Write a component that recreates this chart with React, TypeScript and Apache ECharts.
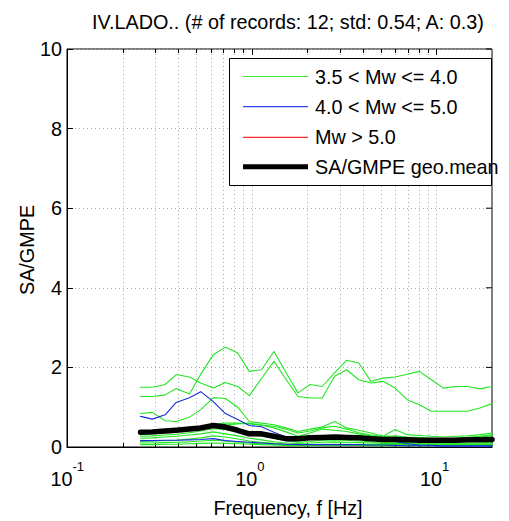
import React, { useEffect, useRef } from "react";
import * as echarts from "echarts";

const FREQS = [0.25, 0.29, 0.34, 0.39, 0.46, 0.53, 0.62, 0.72, 0.84, 0.97, 1.13, 1.32, 1.53, 1.78, 2.07, 2.41, 2.81, 3.27, 3.8, 4.42, 5.14, 5.98, 6.95, 8.08, 9.4, 10.9, 12.7, 14.8, 17.2, 20];

const G1 = [1.50, 1.50, 1.57, 1.82, 1.76, 1.61, 1.48, 1.62, 1.52, 1.29, 1.72, 2.15, 1.71, 1.27, 1.23, 1.23, 1.78, 1.94, 1.69, 1.61, 1.65, 1.48, 1.19, 1.06, 0.90, 0.90, 0.90, 0.90, 0.98, 1.09];
const G2 = [1.27, 1.27, 1.31, 1.47, 1.33, 1.83, 2.32, 2.51, 2.36, 1.90, 1.94, 2.40, 1.88, 1.36, 1.57, 1.52, 1.86, 2.18, 2.11, 1.65, 1.73, 1.76, 1.83, 1.90, 1.69, 1.48, 1.52, 1.52, 1.46, 1.52];
const G3 = [0.84, 0.87, 0.66, 0.64, 0.75, 0.94, 1.24, 1.22, 1.00, 0.64, 0.60, 0.56, 0.48, 0.39, 0.45, 0.50, 0.64, 0.48, 0.42, 0.35, 0.27, 0.44, 0.31, 0.29, 0.27, 0.25, 0.27, 0.28, 0.31, 0.35];
const L1 = [0.31, 0.33, 0.36, 0.38, 0.45, 0.50, 0.57, 0.60, 0.60, 0.58, 0.55, 0.52, 0.45, 0.35, 0.40, 0.48, 0.52, 0.45, 0.36, 0.30, 0.26, 0.28, 0.25, 0.24, 0.22, 0.20, 0.22, 0.24, 0.27, 0.31];
const L2 = [0.27, 0.28, 0.30, 0.32, 0.36, 0.40, 0.46, 0.44, 0.38, 0.30, 0.27, 0.22, 0.16, 0.12, 0.14, 0.17, 0.18, 0.17, 0.15, 0.13, 0.12, 0.12, 0.11, 0.10, 0.10, 0.10, 0.10, 0.10, 0.10, 0.11];
const L3 = [0.22, 0.23, 0.25, 0.27, 0.30, 0.33, 0.38, 0.33, 0.28, 0.22, 0.18, 0.13, 0.10, 0.09, 0.10, 0.12, 0.13, 0.12, 0.11, 0.10, 0.09, 0.09, 0.08, 0.08, 0.08, 0.08, 0.08, 0.08, 0.08, 0.08];
const L4 = [0.14, 0.15, 0.16, 0.17, 0.20, 0.23, 0.28, 0.25, 0.20, 0.15, 0.12, 0.09, 0.07, 0.06, 0.06, 0.07, 0.07, 0.07, 0.06, 0.06, 0.06, 0.06, 0.06, 0.06, 0.06, 0.06, 0.06, 0.06, 0.06, 0.06];
const L5 = [0.10, 0.10, 0.11, 0.12, 0.13, 0.15, 0.17, 0.15, 0.12, 0.10, 0.08, 0.06, 0.05, 0.04, 0.05, 0.05, 0.05, 0.05, 0.05, 0.04, 0.04, 0.04, 0.04, 0.04, 0.04, 0.04, 0.04, 0.04, 0.04, 0.05];
const L6 = [0.06, 0.06, 0.07, 0.07, 0.08, 0.09, 0.10, 0.09, 0.08, 0.07, 0.06, 0.05, 0.04, 0.03, 0.03, 0.04, 0.04, 0.04, 0.04, 0.03, 0.03, 0.03, 0.03, 0.03, 0.03, 0.03, 0.03, 0.03, 0.03, 0.03];
const L7 = [0.33, 0.35, 0.37, 0.40, 0.44, 0.48, 0.52, 0.55, 0.58, 0.60, 0.55, 0.48, 0.38, 0.27, 0.35, 0.45, 0.42, 0.39, 0.33, 0.28, 0.23, 0.25, 0.24, 0.22, 0.21, 0.20, 0.21, 0.23, 0.26, 0.28];
const B1 = [0.77, 0.70, 0.81, 1.12, 1.24, 1.39, 1.14, 0.84, 0.69, 0.54, 0.51, 0.37, 0.25, 0.23, 0.24, 0.23, 0.22, 0.22, 0.21, 0.20, 0.18, 0.14, 0.08, 0.05, 0.04, 0.03, 0.03, 0.03, 0.03, 0.03];
const B2 = [0.16, 0.16, 0.17, 0.17, 0.18, 0.19, 0.21, 0.16, 0.14, 0.12, 0.10, 0.08, 0.07, 0.06, 0.06, 0.06, 0.06, 0.06, 0.06, 0.05, 0.05, 0.04, 0.03, 0.03, 0.03, 0.02, 0.02, 0.02, 0.02, 0.02];
const MEAN = [0.37, 0.38, 0.40, 0.42, 0.45, 0.48, 0.54, 0.50, 0.42, 0.33, 0.33, 0.27, 0.21, 0.21, 0.23, 0.24, 0.25, 0.24, 0.23, 0.21, 0.19, 0.19, 0.18, 0.17, 0.17, 0.17, 0.17, 0.18, 0.18, 0.19];

const GREEN_SERIES = [G1, G2, G3, L1, L2, L3, L4, L5, L6, L7];
const BLUE_SERIES = [B1, B2];

const GRID_FREQS = [0.2, 0.3, 0.4, 0.5, 0.6, 0.7, 0.8, 0.9, 1, 2, 3, 4, 5, 6, 7, 8, 9, 10];
const X_DECADES = [0.1, 1, 10];
const Y_TICKS = [0, 2, 4, 6, 8, 10];

const TITLE = "IV.LADO.. (# of records: 12; std: 0.54; A: 0.3)";
const X_NAME = "Frequency, f [Hz]";
const Y_NAME = "SA/GMPE";
const LEGEND_LABELS = ["3.5 < Mw <= 4.0", "4.0 < Mw <= 5.0", "Mw > 5.0", "SA/GMPE geo.mean"];
const LEGEND_COLORS = ["#33ee33", "#3344ee", "#ff2a2a", "#000000"];
const LEGEND_WIDTHS = [1.2, 1.2, 1.2, 5];

const FONT = "'Liberation Sans', Arial, Helvetica, sans-serif";
const FS = 19.8;
const GREEN = "#22e622";
const BLUE = "#1a2ad8";

export default function App() {
  const ref = useRef<HTMLDivElement>(null);
  useEffect(() => {
    const chart = echarts.init(ref.current!, null, { renderer: "svg" });
    const pairs = (vals: number[]) => FREQS.map((f, i) => [f, vals[i]]);
    const mkLine = (name: string, vals: number[], color: string, width: number, z: number) => ({
      type: "line",
      name,
      data: pairs(vals),
      symbol: "none",
      showSymbol: false,
      silent: true,
      z,
      lineStyle: { color, width, cap: "round", join: "round" },
      itemStyle: { color },
    });

    const series: any[] = [];
    series.push({
      type: "custom",
      silent: true,
      z: 1,
      data: GRID_FREQS.map((f) => [f, 0]),
      renderItem: (_p: any, api: any) => {
        const f = api.value(0);
        const b = api.coord([f, 0]);
        const t = api.coord([f, 10]);
        const major = Math.abs(Math.log10(f) - Math.round(Math.log10(f))) < 1e-6;
        const len = major ? 6 : 4;
        const x = Math.round(b[0]) + 0.5;
        return {
          type: "group",
          children: [
            { type: "line", shape: { x1: x, y1: b[1], x2: x, y2: t[1] }, style: { stroke: "#a8a8a8", lineWidth: 1, lineDash: [1, 3] } },
            { type: "line", shape: { x1: x, y1: b[1], x2: x, y2: b[1] - len }, style: { stroke: "#000", lineWidth: 1 } },
            { type: "line", shape: { x1: x, y1: t[1], x2: x, y2: t[1] + len }, style: { stroke: "#000", lineWidth: 1 } },
          ],
        };
      },
    });
    series.push({
      type: "custom",
      silent: true,
      z: 1,
      data: Y_TICKS.map((v) => [20, v]),
      renderItem: (_p: any, api: any) => {
        const p = api.coord([api.value(0), api.value(1)]);
        return { type: "line", shape: { x1: p[0], y1: p[1], x2: p[0] - 6, y2: p[1] }, style: { stroke: "#000", lineWidth: 1 } };
      },
    });
    series.push({
      type: "custom",
      silent: true,
      z: 5,
      clip: false,
      data: X_DECADES.map((f) => [f, 0]),
      renderItem: (_p: any, api: any) => {
        const f = api.value(0);
        const p = api.coord([f, 0]);
        const e = Math.round(Math.log10(f));
        return {
          type: "group",
          children: [
            { type: "text", x: p[0] + 5.5, y: p[1] + 32, style: { text: "10", fontSize: FS, fontFamily: FONT, fill: "#000", align: "right", verticalAlign: "middle" } },
            { type: "text", x: p[0] + 5.5, y: p[1] + 19, style: { text: String(e), fontSize: 13, fontFamily: FONT, fill: "#000", align: "left", verticalAlign: "middle" } },
          ],
        };
      },
    });

    GREEN_SERIES.forEach((vals, i) => series.push(mkLine("3.5 < Mw <= 4.0 #" + (i + 1), vals, GREEN, 1.1, 3)));
    BLUE_SERIES.forEach((vals, i) => series.push(mkLine("4.0 < Mw <= 5.0 #" + (i + 1), vals, BLUE, 1.1, 4)));
    series.push(mkLine("SA/GMPE geo.mean", MEAN, "#000", 5.5, 6));

    const legendTop = 58;
    const rowY = [76.5, 106.7, 137.3, 166.7];
    const graphic: any[] = [
      { type: "text", x: 288, y: 22, style: { text: TITLE, fontSize: FS, fontFamily: FONT, fill: "#000", align: "center", verticalAlign: "middle" } },
      { type: "text", x: 288, y: 508, style: { text: X_NAME, fontSize: FS, fontFamily: FONT, fill: "#000", align: "center", verticalAlign: "middle" } },
      { type: "text", x: 27, y: 250, rotation: Math.PI / 2, style: { text: Y_NAME, fontSize: FS, fontFamily: FONT, fill: "#000", align: "center", verticalAlign: "middle" } },
      { type: "rect", z: 100, shape: { x: 229.5, y: legendTop + 0.5, width: 262, height: 127 }, style: { fill: "#fff", stroke: "#000", lineWidth: 1 } },
    ];
    LEGEND_LABELS.forEach((lab, i) => {
      graphic.push({ type: "line", z: 101, shape: { x1: 243, y1: rowY[i], x2: 308, y2: rowY[i] }, style: { stroke: LEGEND_COLORS[i], lineWidth: LEGEND_WIDTHS[i] } });
      graphic.push({ type: "text", z: 101, x: 315, y: rowY[i], style: { text: lab, fontSize: FS, fontFamily: FONT, fill: "#000", align: "left", verticalAlign: "middle" } });
    });

    chart.setOption({
      animation: false,
      backgroundColor: "#fff",
      grid: { left: 67, right: 17, top: 49, bottom: 74, show: true, borderColor: "#000", borderWidth: 1, backgroundColor: "transparent" },
      xAxis: {
        type: "log",
        logBase: 10,
        min: 0.1,
        max: 20,
        axisLine: { show: true, lineStyle: { color: "#000" } },
        axisTick: { show: false },
        axisLabel: { show: false },
        splitLine: { show: false },
      },
      yAxis: {
        type: "value",
        min: 0,
        max: 10,
        interval: 2,
        axisLine: { show: true, lineStyle: { color: "#000" } },
        axisTick: { show: true, inside: true, length: 6, lineStyle: { color: "#000" } },
        axisLabel: { color: "#000", fontSize: FS, fontFamily: FONT, margin: 5 },
        splitLine: { show: true, lineStyle: { color: "#a8a8a8", type: [1, 3], width: 1 } },
      },
      series,
      graphic,
    });
    return () => chart.dispose();
  }, []);
  return <div ref={ref} style={{ position: "absolute", left: 0, top: 0, width: 509, height: 521 }} />;
}
